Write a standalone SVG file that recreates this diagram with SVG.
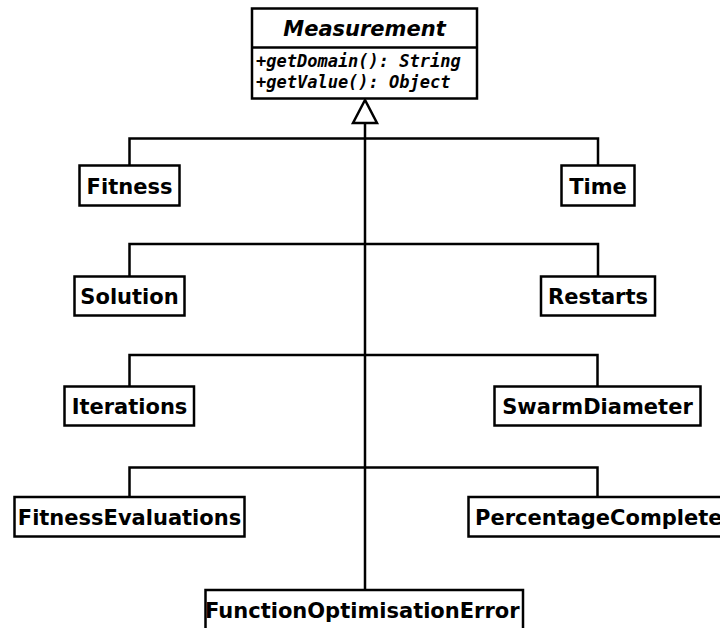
<svg xmlns="http://www.w3.org/2000/svg" width="720" height="628" viewBox="0 0 720 628">
  <style>
    .box { fill: #ffffff; stroke: #000000; stroke-width: 2.5; }
    .lbl { font-family: "DejaVu Sans", "Liberation Sans", sans-serif; font-weight: bold; font-size: 21px; fill: #000000; text-anchor: middle; }
    .title { font-family: "DejaVu Sans", "Liberation Sans", sans-serif; font-weight: bold; font-style: italic; font-size: 21px; fill: #000000; text-anchor: middle; }
    .op { font-family: "DejaVu Sans Mono", "Liberation Mono", monospace; font-weight: bold; font-style: italic; font-size: 17px; fill: #000000; }
    .edge { fill: none; stroke: #000000; stroke-width: 2.5; }
  </style>

  <rect width="720" height="628" fill="#ffffff"/>

  <!-- generalisation connectors -->
  <g id="connectors">
    <line class="edge" x1="365" y1="123" x2="365" y2="590"/>
    <polyline class="edge" points="129.5,165 129.5,138.5 598,138.5 598,165"/>
    <polyline class="edge" points="129.5,276 129.5,244 598,244 598,276"/>
    <polyline class="edge" points="129.5,386 129.5,355 597.5,355 597.5,386"/>
    <polyline class="edge" points="129.5,497 129.5,467.5 597.5,467.5 597.5,497"/>
    <polygon class="edge" points="365,100 353,123 377,123" fill="#ffffff"/>
  </g>

  <!-- abstract base class -->
  <g id="Measurement">
    <rect class="box" x="252" y="8.5" width="225" height="90"/>
    <line class="edge" x1="252" y1="47.5" x2="477" y2="47.5"/>
    <text class="title" x="364.5" y="36">Measurement</text>
    <text class="op" x="256" y="66.5">+getDomain(): String</text>
    <text class="op" x="256" y="87.5">+getValue(): Object</text>
  </g>

  <g id="Fitness">
    <rect class="box" x="79.5" y="165.5" width="100" height="40"/>
    <text class="lbl" x="129.5" y="193.5">Fitness</text>
  </g>
  <g id="Time">
    <rect class="box" x="561.5" y="165.5" width="73" height="40"/>
    <text class="lbl" x="598" y="193.5">Time</text>
  </g>

  <g id="Solution">
    <rect class="box" x="74.5" y="276.5" width="110" height="39"/>
    <text class="lbl" x="129.5" y="304">Solution</text>
  </g>
  <g id="Restarts">
    <rect class="box" x="541" y="276.5" width="114" height="39"/>
    <text class="lbl" x="598" y="304">Restarts</text>
  </g>

  <g id="Iterations">
    <rect class="box" x="64.5" y="386.5" width="129.5" height="39"/>
    <text class="lbl" x="129.5" y="414">Iterations</text>
  </g>
  <g id="SwarmDiameter">
    <rect class="box" x="494.5" y="386.5" width="206" height="39"/>
    <text class="lbl" x="597.5" y="414">SwarmDiameter</text>
  </g>

  <g id="FitnessEvaluations">
    <rect class="box" x="14.5" y="497" width="230" height="39.5"/>
    <text class="lbl" x="129.5" y="525">FitnessEvaluations</text>
  </g>
  <g id="PercentageComplete">
    <rect class="box" x="468.5" y="497" width="270" height="39.5"/>
    <text class="lbl" x="475" y="525" style="text-anchor:start">PercentageComplete</text>
  </g>

  <g id="FunctionOptimisationError">
    <text class="lbl" x="205" y="617.5" style="text-anchor:start">FunctionOptimisationError</text>
    <rect class="box" x="205.5" y="590" width="317.5" height="60" style="fill:none"/>
  </g>
</svg>
